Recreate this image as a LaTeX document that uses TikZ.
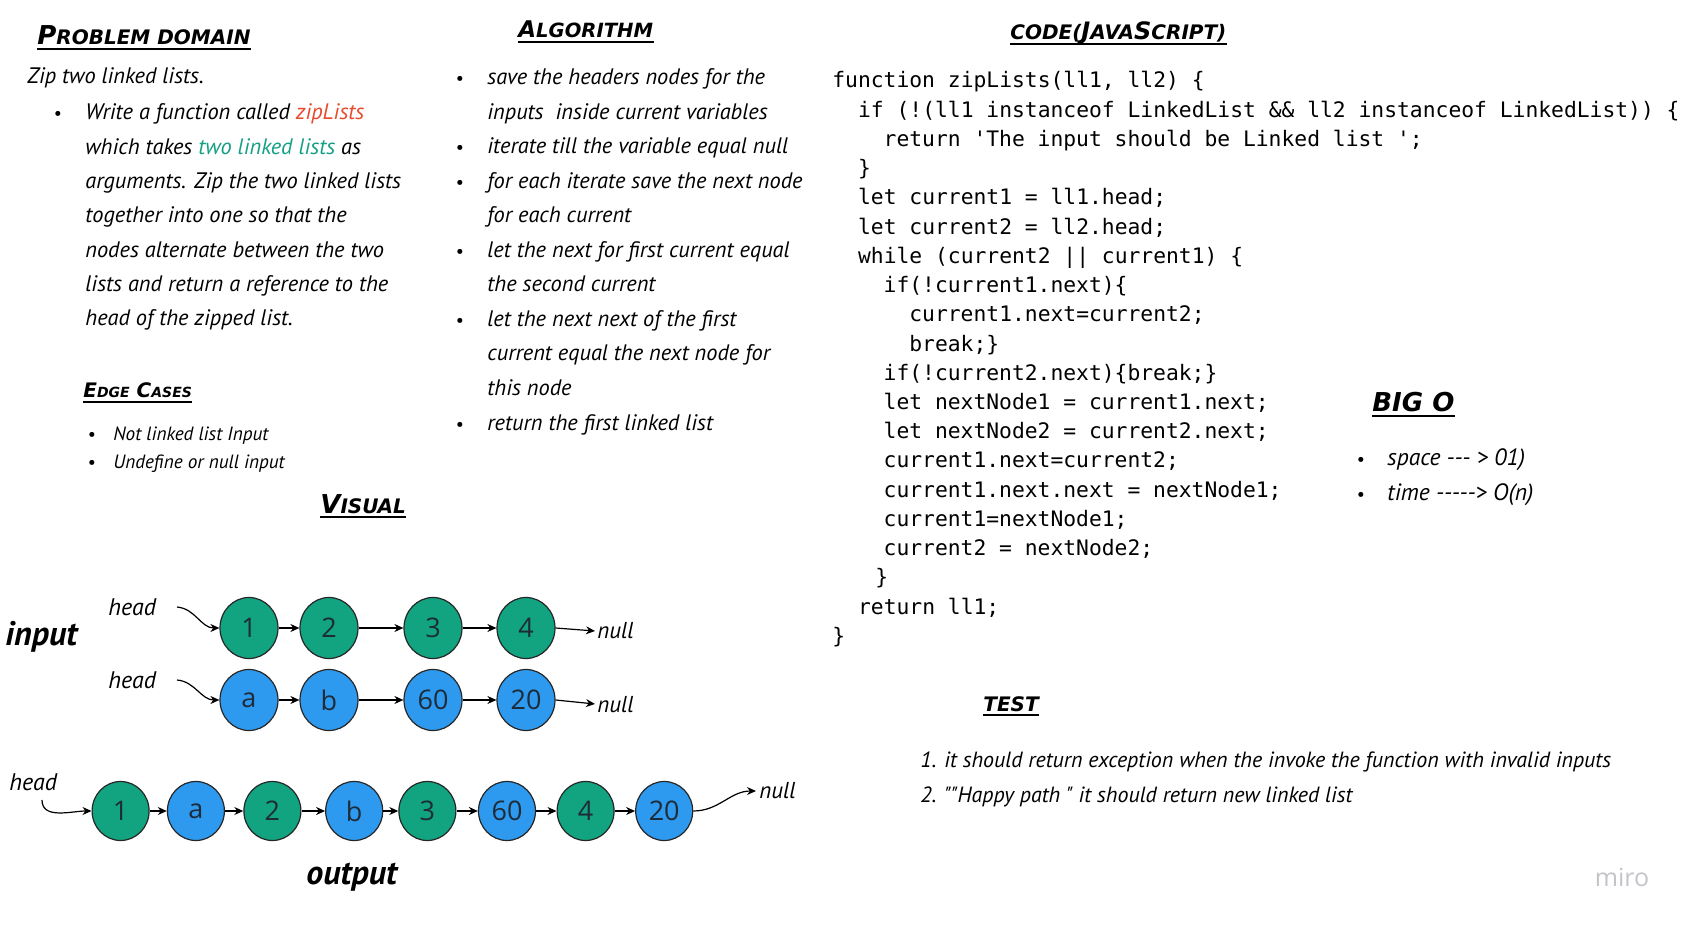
\documentclass[tikz,border=0pt]{standalone}
\usepackage{fontspec}
\setmainfont{PT Sans}
\setmonofont{DejaVu Sans Mono}
\newfontfamily\nodefont{Open Sans}
\newfontfamily\titlefont{DejaVu Sans}
\usetikzlibrary{shapes.geometric,arrows.meta}
\definecolor{lgreen}{HTML}{12A480}
\definecolor{lblue}{HTML}{2E9AEF}
\definecolor{zred}{HTML}{E84A2E}
\definecolor{zteal}{HTML}{14A085}
\definecolor{nodetext}{HTML}{1E2B38}
\definecolor{mirogray}{HTML}{C4C4CA}
\newcommand\fsz[1]{\fontsize{#1}{#1}\selectfont}
\tikzset{
 hand/.style={anchor=base west, inner sep=0pt, font=\itshape\fsz{11.2}},
 testhand/.style={anchor=base west, inner sep=0pt, font=\itshape\fsz{11}},
 bighand/.style={anchor=base west, inner sep=0pt, font=\itshape\fsz{11.8}},
 smallhand/.style={anchor=base west, inner sep=0pt, font=\itshape\fsz{9.6}},
 title/.style={anchor=base west, inner sep=0pt, font=\titlefont\bfseries\itshape},
 uline/.style={line width=1.1pt},
 bul/.style={anchor=base, inner sep=0pt, font=\fsz{9}},
 code/.style={anchor=base west, inner sep=0pt, font=\ttfamily\fsz{10.66}},
 gnode/.style={ellipse, draw=black!85, line width=0.6pt, fill=lgreen, minimum width=29pt, minimum height=30.5pt, inner sep=0pt, font=\nodefont\fsz{13.5}, text=nodetext},
 bnode/.style={gnode, fill=lblue},
 gout/.style={gnode, minimum width=28.5pt, minimum height=29.5pt},
 bout/.style={gout, fill=lblue},
 arr/.style={-{Stealth[length=4.5pt,width=4pt]}, line width=0.6pt},
 lbl/.style={anchor=base west, inner sep=0pt, font=\itshape\fsz{12}},
 nulllbl/.style={anchor=base west, inner sep=0pt, font=\itshape\fsz{11.5}},
 biglbl/.style={anchor=base west, inner sep=0pt, font=\bfseries\itshape\fsz{17}},
}
\begin{document}
\begin{tikzpicture}[x=0.5pt,y=-0.5pt]
\fill[white] (0,0) rectangle (1688,925);
\useasboundingbox (0,0) rectangle (1688,925);

% ---------- titles ----------
\node[title] (tpd) at (37,45) {{\fsz{13}P}{\fsz{10}ROBLEM DOMAIN}};
\draw[uline] ([yshift=-2pt]tpd.base west) -- ([yshift=-2pt]tpd.base east);
\node[title] (tal) at (518,38) {{\fsz{11.5}A}{\fsz{9.8}LGORITHM}};
\draw[uline] ([yshift=-2pt]tal.base west) -- ([yshift=-2pt]tal.base east);
\node[title] (tcd) at (1010,40) {{\fsz{10}CODE(}{\fsz{12}J}{\fsz{10}AVA}{\fsz{12}S}{\fsz{10}CRIPT)}};
\draw[uline] ([yshift=-2pt]tcd.base west) -- ([yshift=-2pt]tcd.base east);
\node[title] (tec) at (83,398) {{\fsz{10}E}{\fsz{7}DGE} {\fsz{10}C}{\fsz{7}ASES}};
\draw[uline] ([yshift=-2pt]tec.base west) -- ([yshift=-2pt]tec.base east);
\node[title] (tvi) at (320,513) {{\fsz{13}V}{\fsz{10}ISUAL}};
\draw[uline] ([yshift=-2pt]tvi.base west) -- ([yshift=-2pt]tvi.base east);
\node[title] (tbo) at (1372,412) {{\fsz{13}BIG O}};
\draw[uline] ([yshift=-2pt]tbo.base west) -- ([yshift=-2pt]tbo.base east);
\node[title] (tts) at (983,711) {{\fsz{10}TEST}};
\draw[uline] ([yshift=-2pt]tts.base west) -- ([yshift=-2pt]tts.base east);

% ---------- problem domain ----------
\node[hand] (pd0) at (27,84) {Zip two linked lists.};
\node[bul] (pdb) at (58,120) {•};
\node[hand] (pd1) at (85,120) {Write a function called \textcolor{zred}{zipLists}};
\node[hand] (pd2) at (85,154.5) {which takes \textcolor{zteal}{two linked lists} as};
\node[hand] (pd3) at (85,189) {arguments. Zip the two linked lists};
\node[hand] (pd4) at (85,223) {together into one so that the};
\node[hand] (pd5) at (85,257.5) {nodes alternate between the two};
\node[hand] (pd6) at (85,292) {lists and return a reference to the};
\node[hand] (pd7) at (85,326) {head of the zipped list.};

% ---------- edge cases ----------
\node[bul] (ecb1) at (92,440) {•};
\node[smallhand] (ec1) at (113,440) {Not linked list Input};
\node[bul] (ecb2) at (92,468) {•};
\node[smallhand] (ec2) at (113,468) {Undefine or null input};

% ---------- algorithm ----------
\node[bul] (alb1) at (460,85) {•};
\node[hand] (al1) at (487,85) {save the headers nodes for the};
\node[hand] (al2) at (487,119.5) {inputs~~inside current variables};
\node[bul] (alb3) at (460,154) {•};
\node[hand] (al3) at (487,154) {iterate till the variable equal null};
\node[bul] (alb4) at (460,188.5) {•};
\node[hand] (al4) at (487,188.5) {for each iterate save the next node};
\node[hand] (al5) at (487,223) {for each current};
\node[bul] (alb6) at (460,257.5) {•};
\node[hand] (al6) at (487,257.5) {let the next for first current equal};
\node[hand] (al7) at (487,292) {the second current};
\node[bul] (alb8) at (460,326.5) {•};
\node[hand] (al8) at (487,326.5) {let the next next of the first};
\node[hand] (al9) at (487,361) {current equal the next node for};
\node[hand] (al10) at (487,395.5) {this node};
\node[bul] (alb11) at (460,430) {•};
\node[hand] (al11) at (487,430) {return the first linked list};

% ---------- code ----------
\node[code] (c0) at (832,88.0) {function zipLists(ll1, ll2) \{};
\node[code] (c1) at (857.7,117.2) {if (!(ll1 instanceof LinkedList \&\& ll2 instanceof LinkedList)) \{};
\node[code] (c2) at (883.3,146.4) {return 'The input should be Linked list ';};
\node[code] (c3) at (857.7,175.7) {\}};
\node[code] (c4) at (857.7,204.9) {let current1 = ll1.head;};
\node[code] (c5) at (857.7,234.1) {let current2 = ll2.head;};
\node[code] (c6) at (857.7,263.3) {while (current2 || current1) \{};
\node[code] (c7) at (883.3,292.5) {if(!current1.next)\{};
\node[code] (c8) at (909,321.8) {current1.next=current2;};
\node[code] (c9) at (909,351.0) {break;\}};
\node[code] (c10) at (883.3,380.2) {if(!current2.next)\{break;\}};
\node[code] (c11) at (883.3,409.4) {let nextNode1 = current1.next;};
\node[code] (c12) at (883.3,438.6) {let nextNode2 = current2.next;};
\node[code] (c13) at (883.3,467.9) {current1.next=current2;};
\node[code] (c14) at (883.3,497.1) {current1.next.next = nextNode1;};
\node[code] (c15) at (883.3,526.3) {current1=nextNode1;};
\node[code] (c16) at (883.3,555.5) {current2 = nextNode2;};
\node[code] (c17) at (875,584.7) {\}};
\node[code] (c18) at (857.7,614.0) {return ll1;};
\node[code] (c19) at (832,643.2) {\}};

% ---------- big O ----------
\node[bul] (bob1) at (1361,466) {•};
\node[bighand] (bo1) at (1387,466) {space -{}-{}- > 01)};
\node[bul] (bob2) at (1361,500) {•};
\node[bighand] (bo2) at (1387,500) {time -{}-{}-{}-{}-> O(n)};

% ---------- test ----------
\node[testhand] (ts1) at (920,767) {1. it should return exception when the invoke the function with invalid inputs};
\node[testhand] (ts2) at (920,802) {2. \textquotedbl\textquotedbl Happy path \textquotedbl\ it should return new linked list};

% ---------- visual: input ----------
\node[biglbl] (inp) at (5,645) {input};
\node[lbl] (hd1) at (108,615) {head};
\node[lbl] (hd2) at (108,688) {head};
\node[gnode] (n11) at (249,628) {1};
\node[gnode] (n12) at (329,628) {2};
\node[gnode] (n13) at (433,628) {3};
\node[gnode] (n14) at (526,628) {4};
\node[bnode] (n21) at (249,700) {a};
\node[bnode] (n22) at (329,700) {b};
\node[bnode] (n23) at (433,700) {60};
\node[bnode] (n24) at (526,700) {20};
\node[nulllbl] (nl1) at (597,638) {null};
\node[nulllbl] (nl2) at (597,712) {null};
\coordinate (hs1) at (177,607);
\coordinate (hs2) at (177,680);
\coordinate (ne1) at (595,631);
\coordinate (ne2) at (595,704);
\draw[arr] (hs1) to[out=-5,in=180] (n11.west);
\draw[arr] (hs2) to[out=-5,in=180] (n21.west);
\draw[arr] (n11) -- (n12);
\draw[arr] (n12) -- (n13);
\draw[arr] (n13) -- (n14);
\draw[arr] (n14.east) -- (ne1);
\draw[arr] (n21) -- (n22);
\draw[arr] (n22) -- (n23);
\draw[arr] (n23) -- (n24);
\draw[arr] (n24.east) -- (ne2);

% ---------- visual: output ----------
\node[lbl] (hd3) at (9,790) {head};
\node[gout] (o1) at (120.6,811) {1};
\node[bout] (o2) at (195.9,811) {a};
\node[gout] (o3) at (272.4,811) {2};
\node[bout] (o4) at (354.2,811) {b};
\node[gout] (o5) at (427.4,811) {3};
\node[bout] (o6) at (507,811) {60};
\node[gout] (o7) at (585.6,811) {4};
\node[bout] (o8) at (664.2,811) {20};
\node[nulllbl] (nl3) at (759,798) {null};
\node[biglbl] (outp) at (306,884) {output};
\coordinate (hs3) at (42,800);
\coordinate (ne3) at (756,791);
\draw[arr] (hs3) to[out=-90,in=180] (o1.west);
\draw[arr] (o1) -- (o2);
\draw[arr] (o2) -- (o3);
\draw[arr] (o3) -- (o4);
\draw[arr] (o4) -- (o5);
\draw[arr] (o5) -- (o6);
\draw[arr] (o6) -- (o7);
\draw[arr] (o7) -- (o8);
\draw[arr] (o8.east) to[out=0,in=180] (ne3);

% ---------- miro ----------
\node[anchor=center, inner sep=0pt, font=\nodefont\fsz{12.5}, text=mirogray] (miro) at (1622,877) {miro};
\end{tikzpicture}
\end{document}
